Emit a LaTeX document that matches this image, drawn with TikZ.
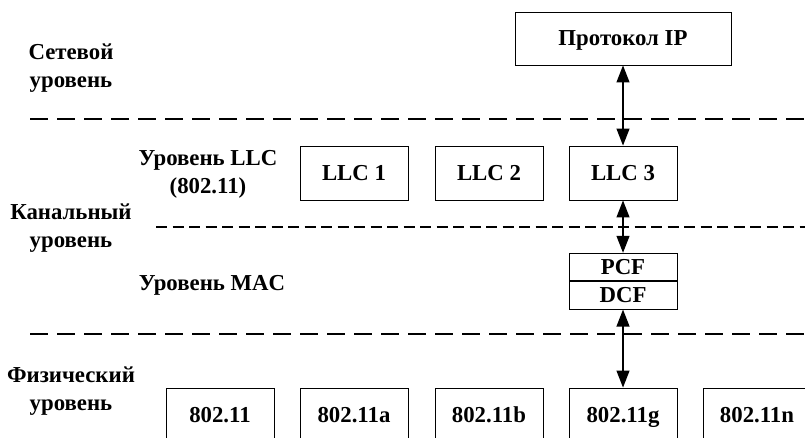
\documentclass[tikz,border=0pt]{standalone}
\usepackage{fontspec}
\setmainfont{Liberation Serif}
\usetikzlibrary{arrows.meta, positioning}
\tikzset{
    block/.style={rectangle, draw, line width=0.9pt, minimum width=108pt, minimum height=54pt, align=center, inner sep=0pt, text height=20pt, text depth=5pt},
    half/.style={block, minimum height=27.5pt},
    layer/.style={align=center, inner sep=0pt},
    sep/.style={line width=2.3pt, dash pattern=on 18pt off 9pt},
    subsep/.style={line width=1.2pt, dash pattern=on 11pt off 5.5pt},
    arrow/.style={line width=1.2pt, {Triangle[length=17pt, width=13pt]}-{Triangle[length=17pt, width=13pt]}}
}

\begin{document}
\begin{tikzpicture}[x=1pt, y=1pt, font=\bfseries\fontsize{22.8}{28}\selectfont]
        \useasboundingbox (0,0) rectangle (805,438);
        \clip (0,0) rectangle (805,438);

        % Layer names
        \node (Net_label) [layer] at (71, 370) {Сетевой\\уровень};
        \node (Link_label) [layer] at (71, 210) {Канальный\\уровень};
        \node (Phy_label) [layer] at (71, 47) {Физический\\уровень};
        \node (LLC_label) [layer] at (208, 264) {Уровень LLC\\(802.11)};
        \node (MAC_label) [layer] at (212, 153) {Уровень MAC};

        % Separators
        \coordinate (Sep1_L) at (30, 319);
        \coordinate (Sep1_R) at (805, 319);
        \coordinate (Sep2_L) at (156, 211);
        \coordinate (Sep2_R) at (805, 211);
        \coordinate (Sep3_L) at (30, 104);
        \coordinate (Sep3_R) at (805, 104);
        \draw[sep] (Sep1_L) -- (Sep1_R);
        \draw[subsep] (Sep2_L) -- (Sep2_R);
        \draw[sep] (Sep3_L) -- (Sep3_R);

        \node (IP) [block, minimum width=216pt, minimum height=53pt] at (623, 399.5) {Протокол IP};

        \node (LLC1) [block] at (354, 265) {LLC 1};
        \node (LLC2) [block] at (489, 265) {LLC 2};
        \node (LLC3) [block] at (623, 265) {LLC 3};

        \node (PCF) [half] at (623, 171) {PCF};
        \node (DCF) [half, below=0pt of PCF] {DCF};

        \node (Phy1) [block] at (220, 23) {802.11};
        \node (Phy2) [block] at (354, 23) {802.11a};
        \node (Phy3) [block] at (489, 23) {802.11b};
        \node (Phy4) [block] at (623, 23) {802.11g};
        \node (Phy5) [block] at (757, 23) {802.11n};

        % Connect layers
        \draw[arrow] (IP) -- (LLC3);
        \draw[arrow] (LLC3) -- (PCF);
        \draw[arrow] (DCF) -- (Phy4);

    \end{tikzpicture}
\end{document}
